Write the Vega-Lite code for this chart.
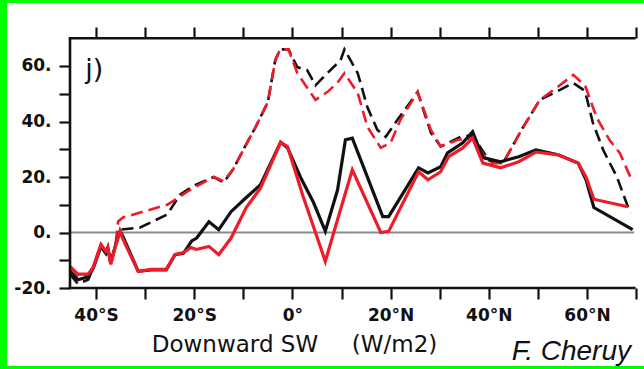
{
  "$schema": "https://vega.github.io/schema/vega-lite/v6.json",
  "width": 637,
  "height": 363,
  "autosize": {"type": "none"},
  "padding": {"left": 7, "top": 3, "right": 0, "bottom": 3},
  "background": "#00ff00",
  "config": {"view": {"fill": "white", "stroke": null}},
  "resolve": {"axis": {"x": "independent", "y": "independent"}},
  "datasets": {
    "curves": [
      {"lat": -45.3, "v": -15, "run": "1", "kind": "b"},
      {"lat": -43.7, "v": -18.5, "run": "1", "kind": "b"},
      {"lat": -41.6, "v": -17, "run": "1", "kind": "b"},
      {"lat": -40.6, "v": -13, "run": "1", "kind": "b"},
      {"lat": -39, "v": -5, "run": "1", "kind": "b"},
      {"lat": -38, "v": -7.5, "run": "1", "kind": "b"},
      {"lat": -37.6, "v": -5.5, "run": "1", "kind": "b"},
      {"lat": -37, "v": -11, "run": "1", "kind": "b"},
      {"lat": -36.1, "v": -5, "run": "1", "kind": "b"},
      {"lat": -35.3, "v": 1, "run": "1", "kind": "b"},
      {"lat": -31, "v": 1.8, "run": "1", "kind": "b"},
      {"lat": -25.5, "v": 6.5, "run": "1", "kind": "b"},
      {"lat": -22.9, "v": 13.6, "run": "1", "kind": "b"},
      {"lat": -20, "v": 17, "run": "1", "kind": "b"},
      {"lat": -16, "v": 20, "run": "1", "kind": "b"},
      {"lat": -14, "v": 18, "run": "1", "kind": "b"},
      {"lat": -12, "v": 23, "run": "1", "kind": "b"},
      {"lat": -10, "v": 29.8, "run": "1", "kind": "b"},
      {"lat": -7.5, "v": 38, "run": "1", "kind": "b"},
      {"lat": -5, "v": 47, "run": "1", "kind": "b"},
      {"lat": -3.5, "v": 62, "run": "1", "kind": "b"},
      {"lat": -2.5, "v": 66, "run": "1", "kind": "b"},
      {"lat": -0.8, "v": 66, "run": "1", "kind": "b"},
      {"lat": 1, "v": 59.6, "run": "1", "kind": "b"},
      {"lat": 3, "v": 58.5, "run": "1", "kind": "b"},
      {"lat": 4.7, "v": 53, "run": "1", "kind": "b"},
      {"lat": 7.1, "v": 57.4, "run": "1", "kind": "b"},
      {"lat": 9.8, "v": 62, "run": "1", "kind": "b"},
      {"lat": 10.6, "v": 66, "run": "1", "kind": "b"},
      {"lat": 13.3, "v": 57.4, "run": "1", "kind": "b"},
      {"lat": 15.3, "v": 45, "run": "1", "kind": "b"},
      {"lat": 17.3, "v": 37, "run": "1", "kind": "b"},
      {"lat": 19, "v": 34.5, "run": "1", "kind": "b"},
      {"lat": 21.4, "v": 40.6, "run": "1", "kind": "b"},
      {"lat": 25.5, "v": 50.6, "run": "1", "kind": "b"},
      {"lat": 28.2, "v": 36, "run": "1", "kind": "b"},
      {"lat": 30.2, "v": 31, "run": "1", "kind": "b"},
      {"lat": 34.3, "v": 34.5, "run": "1", "kind": "b"},
      {"lat": 36.7, "v": 35, "run": "1", "kind": "b"},
      {"lat": 40, "v": 26, "run": "1", "kind": "b"},
      {"lat": 42.9, "v": 25, "run": "1", "kind": "b"},
      {"lat": 47, "v": 38, "run": "1", "kind": "b"},
      {"lat": 50.4, "v": 47.8, "run": "1", "kind": "b"},
      {"lat": 54.5, "v": 51.4, "run": "1", "kind": "b"},
      {"lat": 57.2, "v": 53.9, "run": "1", "kind": "b"},
      {"lat": 59.6, "v": 51, "run": "1", "kind": "b"},
      {"lat": 61.2, "v": 39.5, "run": "1", "kind": "b"},
      {"lat": 63.3, "v": 29.7, "run": "1", "kind": "b"},
      {"lat": 66.1, "v": 20, "run": "1", "kind": "b"},
      {"lat": 68.8, "v": 7, "run": "1", "kind": "b"},

      {"lat": -45.3, "v": -12.5, "run": "2", "kind": "b"},
      {"lat": -43.7, "v": -15.5, "run": "2", "kind": "b"},
      {"lat": -41.6, "v": -15.5, "run": "2", "kind": "b"},
      {"lat": -40.6, "v": -12.6, "run": "2", "kind": "b"},
      {"lat": -39, "v": -4.3, "run": "2", "kind": "b"},
      {"lat": -38, "v": -6.8, "run": "2", "kind": "b"},
      {"lat": -37.6, "v": -5.4, "run": "2", "kind": "b"},
      {"lat": -37, "v": -11.5, "run": "2", "kind": "b"},
      {"lat": -36.1, "v": -5.4, "run": "2", "kind": "b"},
      {"lat": -35.5, "v": 4, "run": "2", "kind": "b"},
      {"lat": -34.5, "v": 5.4, "run": "2", "kind": "b"},
      {"lat": -31, "v": 7.2, "run": "2", "kind": "b"},
      {"lat": -25.5, "v": 10, "run": "2", "kind": "b"},
      {"lat": -21.4, "v": 14.7, "run": "2", "kind": "b"},
      {"lat": -19, "v": 17.2, "run": "2", "kind": "b"},
      {"lat": -16, "v": 20, "run": "2", "kind": "b"},
      {"lat": -14, "v": 18.5, "run": "2", "kind": "b"},
      {"lat": -12, "v": 23, "run": "2", "kind": "b"},
      {"lat": -10, "v": 29.8, "run": "2", "kind": "b"},
      {"lat": -7.5, "v": 38, "run": "2", "kind": "b"},
      {"lat": -5, "v": 47, "run": "2", "kind": "b"},
      {"lat": -3.5, "v": 62, "run": "2", "kind": "b"},
      {"lat": -2.5, "v": 66, "run": "2", "kind": "b"},
      {"lat": -0.8, "v": 66, "run": "2", "kind": "b"},
      {"lat": 1, "v": 57.4, "run": "2", "kind": "b"},
      {"lat": 4.7, "v": 47.8, "run": "2", "kind": "b"},
      {"lat": 7.1, "v": 50.6, "run": "2", "kind": "b"},
      {"lat": 9.2, "v": 54, "run": "2", "kind": "b"},
      {"lat": 10.6, "v": 57.4, "run": "2", "kind": "b"},
      {"lat": 13.3, "v": 50.3, "run": "2", "kind": "b"},
      {"lat": 15.3, "v": 38, "run": "2", "kind": "b"},
      {"lat": 18, "v": 30.5, "run": "2", "kind": "b"},
      {"lat": 20, "v": 32.3, "run": "2", "kind": "b"},
      {"lat": 22, "v": 40.6, "run": "2", "kind": "b"},
      {"lat": 25.5, "v": 50.6, "run": "2", "kind": "b"},
      {"lat": 28.2, "v": 37, "run": "2", "kind": "b"},
      {"lat": 30.2, "v": 31, "run": "2", "kind": "b"},
      {"lat": 33.7, "v": 33.4, "run": "2", "kind": "b"},
      {"lat": 36.7, "v": 34, "run": "2", "kind": "b"},
      {"lat": 40, "v": 25, "run": "2", "kind": "b"},
      {"lat": 42.9, "v": 25, "run": "2", "kind": "b"},
      {"lat": 47, "v": 38, "run": "2", "kind": "b"},
      {"lat": 50.4, "v": 47.8, "run": "2", "kind": "b"},
      {"lat": 53.7, "v": 52, "run": "2", "kind": "b"},
      {"lat": 57.2, "v": 56.8, "run": "2", "kind": "b"},
      {"lat": 59.6, "v": 53, "run": "2", "kind": "b"},
      {"lat": 62, "v": 41.3, "run": "2", "kind": "b"},
      {"lat": 64.6, "v": 33.3, "run": "2", "kind": "b"},
      {"lat": 66.7, "v": 28.6, "run": "2", "kind": "b"},
      {"lat": 69.1, "v": 18.9, "run": "2", "kind": "b"},

      {"lat": -45.3, "v": -14, "run": "1", "kind": "a"},
      {"lat": -43.7, "v": -17, "run": "1", "kind": "a"},
      {"lat": -41.6, "v": -16, "run": "1", "kind": "a"},
      {"lat": -40.6, "v": -13, "run": "1", "kind": "a"},
      {"lat": -39, "v": -5, "run": "1", "kind": "a"},
      {"lat": -38, "v": -7.5, "run": "1", "kind": "a"},
      {"lat": -37.6, "v": -5.5, "run": "1", "kind": "a"},
      {"lat": -37, "v": -11, "run": "1", "kind": "a"},
      {"lat": -36.1, "v": -5, "run": "1", "kind": "a"},
      {"lat": -35.1, "v": 0.5, "run": "1", "kind": "a"},
      {"lat": -34.5, "v": -1.5, "run": "1", "kind": "a"},
      {"lat": -31.4, "v": -14, "run": "1", "kind": "a"},
      {"lat": -28.8, "v": -13.5, "run": "1", "kind": "a"},
      {"lat": -25.7, "v": -13.5, "run": "1", "kind": "a"},
      {"lat": -23.9, "v": -8, "run": "1", "kind": "a"},
      {"lat": -22.2, "v": -7.5, "run": "1", "kind": "a"},
      {"lat": -20.5, "v": -3, "run": "1", "kind": "a"},
      {"lat": -19.5, "v": -2, "run": "1", "kind": "a"},
      {"lat": -17, "v": 3.9, "run": "1", "kind": "a"},
      {"lat": -15, "v": 1, "run": "1", "kind": "a"},
      {"lat": -12.5, "v": 7.5, "run": "1", "kind": "a"},
      {"lat": -9.4, "v": 12.6, "run": "1", "kind": "a"},
      {"lat": -6.5, "v": 17.2, "run": "1", "kind": "a"},
      {"lat": -2.4, "v": 32.5, "run": "1", "kind": "a"},
      {"lat": -1, "v": 30.5, "run": "1", "kind": "a"},
      {"lat": 1.6, "v": 20.1, "run": "1", "kind": "a"},
      {"lat": 4.3, "v": 10.8, "run": "1", "kind": "a"},
      {"lat": 6.7, "v": 0.5, "run": "1", "kind": "a"},
      {"lat": 9.2, "v": 15.4, "run": "1", "kind": "a"},
      {"lat": 10.8, "v": 33.4, "run": "1", "kind": "a"},
      {"lat": 12.2, "v": 34, "run": "1", "kind": "a"},
      {"lat": 18.4, "v": 5.7, "run": "1", "kind": "a"},
      {"lat": 19.6, "v": 5.7, "run": "1", "kind": "a"},
      {"lat": 25.7, "v": 23.3, "run": "1", "kind": "a"},
      {"lat": 27.6, "v": 21.5, "run": "1", "kind": "a"},
      {"lat": 30.2, "v": 23.7, "run": "1", "kind": "a"},
      {"lat": 31.6, "v": 28.7, "run": "1", "kind": "a"},
      {"lat": 34.7, "v": 32.3, "run": "1", "kind": "a"},
      {"lat": 36.7, "v": 36.3, "run": "1", "kind": "a"},
      {"lat": 38.8, "v": 27, "run": "1", "kind": "a"},
      {"lat": 42.4, "v": 25.5, "run": "1", "kind": "a"},
      {"lat": 46.1, "v": 27.3, "run": "1", "kind": "a"},
      {"lat": 49.6, "v": 29.8, "run": "1", "kind": "a"},
      {"lat": 54.1, "v": 28, "run": "1", "kind": "a"},
      {"lat": 58.2, "v": 25, "run": "1", "kind": "a"},
      {"lat": 59.8, "v": 19, "run": "1", "kind": "a"},
      {"lat": 61.4, "v": 9, "run": "1", "kind": "a"},
      {"lat": 69.3, "v": 1, "run": "1", "kind": "a"},

      {"lat": -45.3, "v": -12.2, "run": "2", "kind": "a"},
      {"lat": -43.7, "v": -15, "run": "2", "kind": "a"},
      {"lat": -41.6, "v": -15, "run": "2", "kind": "a"},
      {"lat": -40.6, "v": -12.6, "run": "2", "kind": "a"},
      {"lat": -39, "v": -4.3, "run": "2", "kind": "a"},
      {"lat": -38, "v": -6.8, "run": "2", "kind": "a"},
      {"lat": -37.6, "v": -5.4, "run": "2", "kind": "a"},
      {"lat": -37, "v": -11.5, "run": "2", "kind": "a"},
      {"lat": -36.1, "v": -5.4, "run": "2", "kind": "a"},
      {"lat": -35.1, "v": 0.4, "run": "2", "kind": "a"},
      {"lat": -34.5, "v": -2.5, "run": "2", "kind": "a"},
      {"lat": -31.4, "v": -14, "run": "2", "kind": "a"},
      {"lat": -28.8, "v": -13.3, "run": "2", "kind": "a"},
      {"lat": -25.7, "v": -13.3, "run": "2", "kind": "a"},
      {"lat": -23.9, "v": -7.9, "run": "2", "kind": "a"},
      {"lat": -22.2, "v": -7.2, "run": "2", "kind": "a"},
      {"lat": -20.6, "v": -5.4, "run": "2", "kind": "a"},
      {"lat": -19.6, "v": -6.1, "run": "2", "kind": "a"},
      {"lat": -17, "v": -5, "run": "2", "kind": "a"},
      {"lat": -15, "v": -8, "run": "2", "kind": "a"},
      {"lat": -12.5, "v": -2, "run": "2", "kind": "a"},
      {"lat": -9.4, "v": 9, "run": "2", "kind": "a"},
      {"lat": -6.5, "v": 16, "run": "2", "kind": "a"},
      {"lat": -2.4, "v": 32.5, "run": "2", "kind": "a"},
      {"lat": -1, "v": 31, "run": "2", "kind": "a"},
      {"lat": 2.2, "v": 12.9, "run": "2", "kind": "a"},
      {"lat": 4.7, "v": 0, "run": "2", "kind": "a"},
      {"lat": 6.7, "v": -10.4, "run": "2", "kind": "a"},
      {"lat": 9.2, "v": 4.7, "run": "2", "kind": "a"},
      {"lat": 12.2, "v": 22.6, "run": "2", "kind": "a"},
      {"lat": 18, "v": 0, "run": "2", "kind": "a"},
      {"lat": 19.6, "v": 0.4, "run": "2", "kind": "a"},
      {"lat": 25.7, "v": 21.9, "run": "2", "kind": "a"},
      {"lat": 27.6, "v": 19, "run": "2", "kind": "a"},
      {"lat": 30.2, "v": 21.9, "run": "2", "kind": "a"},
      {"lat": 31.8, "v": 27.3, "run": "2", "kind": "a"},
      {"lat": 34.7, "v": 30.5, "run": "2", "kind": "a"},
      {"lat": 36.7, "v": 34, "run": "2", "kind": "a"},
      {"lat": 38.8, "v": 25, "run": "2", "kind": "a"},
      {"lat": 42.4, "v": 23.3, "run": "2", "kind": "a"},
      {"lat": 46.1, "v": 25.5, "run": "2", "kind": "a"},
      {"lat": 49.6, "v": 29, "run": "2", "kind": "a"},
      {"lat": 54.1, "v": 28, "run": "2", "kind": "a"},
      {"lat": 58.2, "v": 25, "run": "2", "kind": "a"},
      {"lat": 59.8, "v": 20, "run": "2", "kind": "a"},
      {"lat": 61.4, "v": 12, "run": "2", "kind": "a"},
      {"lat": 68.3, "v": 9.3, "run": "2", "kind": "a"}
    ]
  },
  "layer": [
    {
      "data": {"values": [{}]},
      "mark": {"type": "rule", "color": "#8a8a8a", "strokeWidth": 2},
      "encoding": {
        "x": {"datum": -45.3, "type": "quantitative", "scale": {"domain": [-58.13, 71.61], "nice": false, "zero": false},
          "axis": {"orient": "top", "offset": -35, "values": [-40, -30, -20, -10, 0, 10, 20, 30, 40, 50, 60, 70], "domain": false, "labels": false, "grid": false, "tickSize": 11, "tickWidth": 2.2, "tickColor": "#111111", "title": null}},
        "x2": {"datum": 69.6},
        "y": {"datum": 0, "type": "quantitative", "scale": {"domain": [-48.1, 82.7], "nice": false, "zero": false}, "axis": null}
      }
    },
    {
      "data": {"name": "curves"},
      "transform": [{"filter": "datum.kind == 'b'"}],
      "mark": {"type": "line", "strokeWidth": 2.6, "strokeDash": [12, 6]},
      "encoding": {
        "x": {"field": "lat", "type": "quantitative", "scale": {"domain": [-58.13, 71.61], "nice": false, "zero": false}, "axis": null},
        "y": {"field": "v", "type": "quantitative", "scale": {"domain": [-48.1, 82.7], "nice": false, "zero": false},
          "axis": {"orient": "left", "offset": -63, "values": [-20, -10, 0, 10, 20, 30, 40, 50, 60], "domain": false, "grid": false, "tickSize": 11, "tickWidth": 2.2, "tickColor": "#111111", "title": null, "labelOverlap": false,
            "labelExpr": "datum.value % 20 == 0 ? datum.value + '.' : ''",
            "labelFont": "DejaVu Sans", "labelFontWeight": "bold", "labelFontSize": 17, "labelColor": "#111111", "labelPadding": 8}},
        "color": {"field": "run", "type": "nominal", "scale": {"domain": ["1", "2"], "range": ["#111111", "#ee1c2a"]}, "legend": null},
        "order": {"field": "lat", "type": "quantitative"}
      }
    },
    {
      "data": {"name": "curves"},
      "transform": [{"filter": "datum.kind == 'a'"}],
      "mark": {"type": "line", "strokeWidth": 3.2},
      "encoding": {
        "x": {"field": "lat", "type": "quantitative", "scale": {"domain": [-58.13, 71.61], "nice": false, "zero": false},
          "axis": {"orient": "bottom", "offset": -78, "values": [-40, -30, -20, -10, 0, 10, 20, 30, 40, 50, 60, 70], "domain": false, "grid": false, "tickSize": 11, "tickWidth": 2.2, "tickColor": "#111111", "title": null, "labelOverlap": false,
            "labelExpr": "datum.value % 20 == 0 ? (datum.value < 0 ? (-datum.value) + '°S' : (datum.value > 0 ? datum.value + '°N' : '0°')) : ''",
            "labelFont": "DejaVu Sans", "labelFontWeight": "bold", "labelFontSize": 17, "labelColor": "#111111", "labelPadding": 8}},
        "y": {"field": "v", "type": "quantitative", "scale": {"domain": [-48.1, 82.7], "nice": false, "zero": false}, "axis": null},
        "color": {"field": "run", "type": "nominal", "scale": {"domain": ["1", "2"], "range": ["#111111", "#ee1c2a"]}, "legend": null},
        "order": {"field": "lat", "type": "quantitative"}
      }
    },
    {
      "data": {"values": [{}]},
      "mark": {"type": "rule", "color": "#111111", "strokeWidth": 2.6},
      "encoding": {
        "x": {"datum": -45.3, "type": "quantitative", "scale": {"domain": [-58.13, 71.61], "nice": false, "zero": false}, "axis": null},
        "y": {"datum": -20, "type": "quantitative", "scale": {"domain": [-48.1, 82.7], "nice": false, "zero": false}, "axis": null},
        "y2": {"datum": 70}
      }
    },
    {
      "data": {"values": [{}]},
      "mark": {"type": "rule", "color": "#111111", "strokeWidth": 2.6},
      "encoding": {
        "x": {"datum": -45.55, "type": "quantitative", "scale": {"domain": [-58.13, 71.61], "nice": false, "zero": false}, "axis": null},
        "x2": {"datum": 69.9},
        "y": {"datum": 70, "type": "quantitative", "scale": {"domain": [-48.1, 82.7], "nice": false, "zero": false}, "axis": null}
      }
    },
    {
      "data": {"values": [{}]},
      "mark": {"type": "rule", "color": "#111111", "strokeWidth": 2.6},
      "encoding": {
        "x": {"datum": -45.55, "type": "quantitative", "scale": {"domain": [-58.13, 71.61], "nice": false, "zero": false}, "axis": null},
        "x2": {"datum": 69.9},
        "y": {"datum": -20, "type": "quantitative", "scale": {"domain": [-48.1, 82.7], "nice": false, "zero": false}, "axis": null}
      }
    },
    {
      "data": {"values": [{}]},
      "mark": {"type": "text", "text": "j)", "font": "DejaVu Sans", "fontSize": 27, "align": "left", "baseline": "middle", "color": "#111111"},
      "encoding": {
        "x": {"datum": -42.2, "type": "quantitative", "scale": {"domain": [-58.13, 71.61], "nice": false, "zero": false}, "axis": null},
        "y": {"datum": 58.6, "type": "quantitative", "scale": {"domain": [-48.1, 82.7], "nice": false, "zero": false}, "axis": null}
      }
    },
    {
      "data": {"values": [{}]},
      "mark": {"type": "text", "text": "Downward SW", "font": "DejaVu Sans", "fontSize": 23, "align": "center", "baseline": "alphabetic", "color": "#111111"},
      "encoding": {
        "x": {"datum": -11.7, "type": "quantitative", "scale": {"domain": [-58.13, 71.61], "nice": false, "zero": false}, "axis": null},
        "y": {"datum": -42.95, "type": "quantitative", "scale": {"domain": [-48.1, 82.7], "nice": false, "zero": false}, "axis": null}
      }
    },
    {
      "data": {"values": [{}]},
      "mark": {"type": "text", "text": "(W/m2)", "font": "DejaVu Sans", "fontSize": 23, "align": "center", "baseline": "alphabetic", "color": "#111111"},
      "encoding": {
        "x": {"datum": 20.8, "type": "quantitative", "scale": {"domain": [-58.13, 71.61], "nice": false, "zero": false}, "axis": null},
        "y": {"datum": -42.95, "type": "quantitative", "scale": {"domain": [-48.1, 82.7], "nice": false, "zero": false}, "axis": null}
      }
    },
    {
      "data": {"values": [{}]},
      "mark": {"type": "text", "text": "F. Cheruy", "font": "Liberation Sans", "fontStyle": "italic", "fontSize": 28, "align": "right", "baseline": "alphabetic", "color": "#111111"},
      "encoding": {
        "x": {"datum": 68.96, "type": "quantitative", "scale": {"domain": [-58.13, 71.61], "nice": false, "zero": false}, "axis": null},
        "y": {"datum": -45.95, "type": "quantitative", "scale": {"domain": [-48.1, 82.7], "nice": false, "zero": false}, "axis": null}
      }
    }
  ]
}
